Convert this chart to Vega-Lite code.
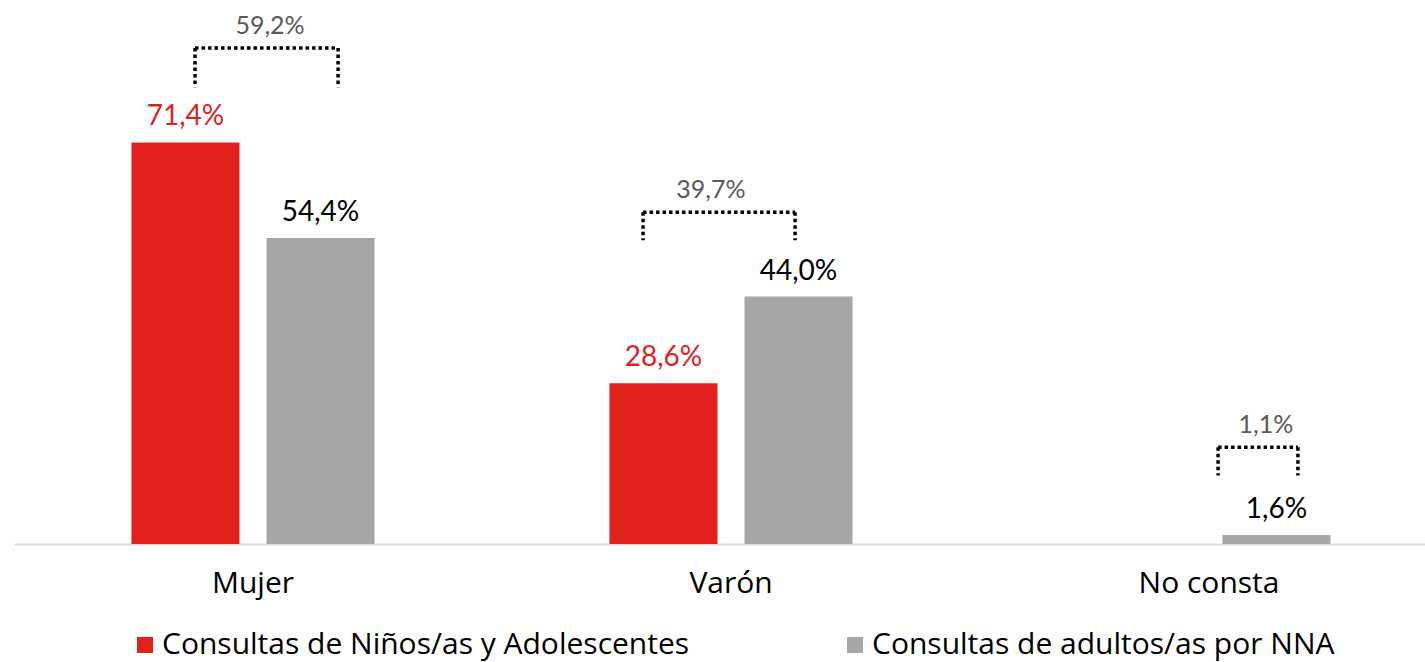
{
  "$schema": "https://vega.github.io/schema/vega-lite/v6.json",
  "width": 1411,
  "height": 540,
  "padding": {"left": 14, "top": 4, "right": 0, "bottom": 118},
  "autosize": {"type": "none"},
  "config": {
    "view": {"stroke": null},
    "locale": {"number": {"decimal": ",", "thousands": ".", "grouping": [3], "currency": ["", " €"]}},
    "font": "Lato"
  },
  "datasets": {
    "bars": [
      {"cat": "Mujer", "serie": "Consultas de Niños/as y Adolescentes", "v": 0.714},
      {"cat": "Mujer", "serie": "Consultas de adultos/as por NNA", "v": 0.544},
      {"cat": "Varón", "serie": "Consultas de Niños/as y Adolescentes", "v": 0.286},
      {"cat": "Varón", "serie": "Consultas de adultos/as por NNA", "v": 0.44},
      {"cat": "No consta", "serie": "Consultas de adultos/as por NNA", "v": 0.016}
    ],
    "brackets": [
      {"cat": "Mujer", "total": 0.592, "top": 0.882, "base": 0.812},
      {"cat": "Varón", "total": 0.397, "top": 0.59, "base": 0.54},
      {"cat": "No consta", "total": 0.011, "top": 0.172, "base": 0.122}
    ]
  },
  "layer": [
    {
      "data": {"name": "bars"},
      "mark": {"type": "bar"},
      "encoding": {
        "x": {
          "field": "cat", "type": "nominal",
          "scale": {"domain": ["Mujer", "Varón", "No consta"], "range": [0, 1434], "paddingInner": 0, "paddingOuter": 0},
          "axis": {"title": null, "labelAngle": 0, "ticks": false, "domainColor": "#d9d9d9", "domainWidth": 2, "labelFontSize": 30, "labelColor": "#000000", "labelPadding": 24, "labelFont": "Open Sans"}
        },
        "xOffset": {
          "field": "serie", "type": "nominal",
          "scale": {"domain": ["Consultas de Niños/as y Adolescentes", "Consultas de adultos/as por NNA"], "paddingInner": 0.2, "paddingOuter": 0.87}
        },
        "y": {"field": "v", "type": "quantitative", "scale": {"domain": [0, 0.96], "nice": false, "zero": true}, "axis": null},
        "color": {
          "field": "serie", "type": "nominal",
          "scale": {"domain": ["Consultas de Niños/as y Adolescentes", "Consultas de adultos/as por NNA"], "range": ["#E2201C", "#A6A6A6"]},
          "legend": {"title": null, "orient": "none", "legendX": 116, "legendY": 626, "direction": "horizontal", "symbolType": "square", "symbolSize": 256, "symbolStrokeWidth": 0, "labelFontSize": 30, "labelFont": "Open Sans", "labelColor": "#000000", "labelOffset": 2, "columnPadding": 150, "labelLimit": 800}
        }
      }
    },
    {
      "data": {"name": "bars"},
      "mark": {"type": "text", "baseline": "alphabetic", "dy": -17, "fontSize": 28, "font": "Lato"},
      "encoding": {
        "x": {"field": "cat", "type": "nominal"},
        "xOffset": {"field": "serie", "type": "nominal"},
        "y": {"field": "v", "type": "quantitative", "axis": null},
        "text": {"field": "v", "type": "quantitative", "format": ".1%"},
        "color": {"condition": {"test": "datum.serie === 'Consultas de Niños/as y Adolescentes'", "value": "#E2201C"}, "value": "#000000"}
      }
    },
    {
      "data": {"name": "brackets"},
      "transform": [{"filter": "datum.cat === 'Mujer'"}],
      "layer": [
        {"mark": {"type": "rule", "strokeDash": [3.5, 3], "strokeWidth": 3.5, "color": "#000000"},
         "encoding": {"x": {"field": "cat", "type": "nominal", "bandPosition": 0.3787}, "x2": {"field": "cat", "bandPosition": 0.678}, "y": {"field": "top", "type": "quantitative", "axis": null}}},
        {"mark": {"type": "rule", "strokeDash": [3.5, 3], "strokeWidth": 3.5, "color": "#000000"},
         "encoding": {"x": {"field": "cat", "type": "nominal", "bandPosition": 0.3787}, "y": {"field": "top", "type": "quantitative", "axis": null}, "y2": {"field": "base"}}},
        {"mark": {"type": "rule", "strokeDash": [3.5, 3], "strokeWidth": 3.5, "color": "#000000"},
         "encoding": {"x": {"field": "cat", "type": "nominal", "bandPosition": 0.678}, "y": {"field": "top", "type": "quantitative", "axis": null}, "y2": {"field": "base"}}},
        {"mark": {"type": "text", "baseline": "alphabetic", "dy": -14, "fontSize": 25, "font": "Lato", "color": "#595959"},
         "encoding": {"x": {"field": "cat", "type": "nominal", "bandPosition": 0.5356}, "y": {"field": "top", "type": "quantitative", "axis": null}, "text": {"field": "total", "type": "quantitative", "format": ".1%"}}}
      ]
    },
    {
      "data": {"name": "brackets"},
      "transform": [{"filter": "datum.cat === 'Varón'"}],
      "layer": [
        {"mark": {"type": "rule", "strokeDash": [3.5, 3], "strokeWidth": 3.5, "color": "#000000"},
         "encoding": {"x": {"field": "cat", "type": "nominal", "bandPosition": 0.316}, "x2": {"field": "cat", "bandPosition": 0.634}, "y": {"field": "top", "type": "quantitative", "axis": null}}},
        {"mark": {"type": "rule", "strokeDash": [3.5, 3], "strokeWidth": 3.5, "color": "#000000"},
         "encoding": {"x": {"field": "cat", "type": "nominal", "bandPosition": 0.316}, "y": {"field": "top", "type": "quantitative", "axis": null}, "y2": {"field": "base"}}},
        {"mark": {"type": "rule", "strokeDash": [3.5, 3], "strokeWidth": 3.5, "color": "#000000"},
         "encoding": {"x": {"field": "cat", "type": "nominal", "bandPosition": 0.634}, "y": {"field": "top", "type": "quantitative", "axis": null}, "y2": {"field": "base"}}},
        {"mark": {"type": "text", "baseline": "alphabetic", "dy": -14, "fontSize": 25, "font": "Lato", "color": "#595959"},
         "encoding": {"x": {"field": "cat", "type": "nominal", "bandPosition": 0.458}, "y": {"field": "top", "type": "quantitative", "axis": null}, "text": {"field": "total", "type": "quantitative", "format": ".1%"}}}
      ]
    },
    {
      "data": {"name": "brackets"},
      "transform": [{"filter": "datum.cat === 'No consta'"}],
      "layer": [
        {"mark": {"type": "rule", "strokeDash": [3.5, 3], "strokeWidth": 3.5, "color": "#000000"},
         "encoding": {"x": {"field": "cat", "type": "nominal", "bandPosition": 0.519}, "x2": {"field": "cat", "bandPosition": 0.686}, "y": {"field": "top", "type": "quantitative", "axis": null}}},
        {"mark": {"type": "rule", "strokeDash": [3.5, 3], "strokeWidth": 3.5, "color": "#000000"},
         "encoding": {"x": {"field": "cat", "type": "nominal", "bandPosition": 0.519}, "y": {"field": "top", "type": "quantitative", "axis": null}, "y2": {"field": "base"}}},
        {"mark": {"type": "rule", "strokeDash": [3.5, 3], "strokeWidth": 3.5, "color": "#000000"},
         "encoding": {"x": {"field": "cat", "type": "nominal", "bandPosition": 0.686}, "y": {"field": "top", "type": "quantitative", "axis": null}, "y2": {"field": "base"}}},
        {"mark": {"type": "text", "baseline": "alphabetic", "dy": -14, "fontSize": 25, "font": "Lato", "color": "#595959"},
         "encoding": {"x": {"field": "cat", "type": "nominal", "bandPosition": 0.619}, "y": {"field": "top", "type": "quantitative", "axis": null}, "text": {"field": "total", "type": "quantitative", "format": ".1%"}}}
      ]
    }
  ]
}
